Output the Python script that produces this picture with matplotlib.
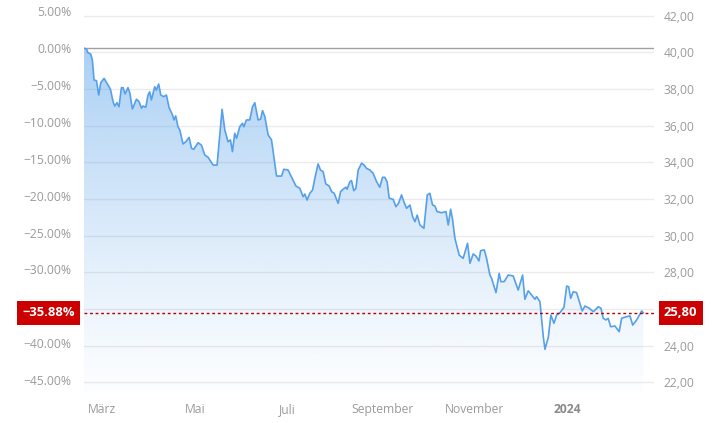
import numpy as np
import matplotlib
matplotlib.use("Agg")
import matplotlib.pyplot as plt
import matplotlib.dates as mdates
import matplotlib.transforms as mtransforms
from matplotlib.patches import Polygon
from datetime import date

plt.rcParams['font.family'] = ['Open Sans', 'DejaVu Sans']

# data (days after start date, closing price)
start_date = date(2023, 2, 17)
day_offsets = [0, 1.6, 2.6, 4.4, 5.5, 6.6, 8.2, 9.7, 11.0, 13.2, 15.8, 17.4, 19.1, 20.2, 21.7, 23.0,
               24.6, 25.7, 27.0, 28.9, 30.1, 31.8, 34.5, 36.2, 37.8, 38.8, 40.6, 42.1, 43.2, 44.3,
               46.5, 47.6, 49.1, 50.5, 52.4, 54.2, 55.9, 58.2, 59.2, 60.3, 61.8, 63.0, 65.1, 66.9,
               69.1, 70.7, 72.2, 75.0, 77.2, 79.4, 81.6, 84.9, 87.5, 90.8, 92.6, 94.7, 96.3, 97.6,
               99.1, 100.3, 102.4, 104.2, 105.1, 106.8, 109.0, 110.8, 112.3, 114.5, 116.1, 117.4,
               118.9, 121.1, 123.3, 126.6, 129.9, 131.4, 134.2, 136.4, 139.3, 141.9, 144.1, 145.2,
               146.7, 148.5, 150.3, 151.8, 153.9, 155.5, 157.2, 159.0, 161.2, 162.8, 164.5, 167.1,
               168.7, 170.4, 172.2, 173.0, 174.8, 175.9, 177.4, 178.8, 180.3, 182.5, 184.2, 185.8,
               188.0, 190.1, 192.4, 194.5, 196.3, 197.8, 199.3, 200.7, 203.3, 205.1, 206.8, 208.8,
               210.3, 212.1, 214.3, 216.1, 217.6, 219.1, 220.9, 223.5, 225.7, 227.4, 229.2, 230.7,
               232.2, 235.1, 238.0, 239.5, 241.1, 242.4, 243.9, 246.7, 249.3, 252.2, 253.8, 255.9,
               257.7, 259.7, 260.8, 263.2, 264.7, 266.9, 268.0, 270.9, 273.0, 274.1, 276.3, 278.9,
               282.2, 285.5, 288.4, 289.9, 292.1, 294.3, 296.5, 297.6, 299.8, 302.0, 303.1, 305.3,
               307.0, 309.0, 310.8, 313.0, 315.6, 317.4, 318.7, 320.0, 321.7, 323.9, 327.6, 329.4,
               332.2, 334.9, 338.2, 339.9, 341.4, 343.2, 344.7, 346.3, 349.1, 351.9, 353.5, 356.8,
               359.0, 360.8, 363.4, 366.7, 367.8]
prices = [40.23, 40.19, 39.99, 39.92, 39.59, 38.50, 38.46, 37.68, 38.35, 38.59, 38.23, 37.99, 37.32,
          37.08, 37.26, 37.04, 38.08, 38.08, 37.74, 38.08, 37.81, 36.92, 37.45, 37.32, 36.96, 37.08,
          37.01, 37.68, 37.86, 37.41, 38.13, 37.95, 38.28, 37.68, 37.59, 37.68, 37.01, 36.59, 36.32,
          36.54, 35.95, 35.77, 35.01, 35.13, 35.37, 34.77, 34.72, 35.08, 34.95, 34.41, 34.28, 33.86,
          33.86, 36.90, 35.77, 35.13, 35.23, 34.59, 35.59, 35.32, 35.95, 36.14, 35.95, 36.32, 36.32,
          37.04, 37.26, 36.32, 36.36, 36.83, 36.50, 35.50, 35.23, 33.26, 33.26, 33.63, 33.59, 33.22,
          32.72, 32.59, 32.13, 32.28, 31.95, 32.32, 32.50, 33.14, 33.92, 33.59, 33.50, 32.83, 32.72,
          32.41, 32.32, 31.77, 32.41, 32.54, 32.65, 32.54, 32.95, 33.01, 32.46, 32.59, 33.59, 33.96,
          33.86, 33.68, 33.59, 33.41, 32.95, 32.65, 33.19, 33.19, 32.95, 32.05, 31.99, 31.59, 31.77,
          32.23, 31.86, 31.50, 31.68, 31.04, 30.77, 31.13, 30.59, 30.41, 32.23, 32.32, 31.68, 31.63,
          31.32, 31.26, 31.32, 30.59, 31.45, 30.86, 29.86, 28.95, 28.77, 29.59, 28.50, 29.01, 28.90,
          28.63, 29.19, 29.23, 28.77, 27.86, 27.68, 26.90, 27.95, 27.50, 27.50, 27.86, 27.81, 27.04,
          27.86, 26.54, 27.00, 26.77, 26.54, 26.68, 26.41, 24.50, 23.81, 24.46, 25.68, 25.23, 25.68,
          25.81, 26.10, 27.26, 27.22, 26.59, 26.95, 26.90, 25.90, 26.17, 26.05, 25.86, 26.13, 26.05,
          25.50, 25.41, 25.50, 25.04, 25.08, 24.77, 25.50, 25.59, 25.63, 25.13, 25.41, 25.90, 25.80]

base_price = 40.24
last_price = 25.80
last_pct = -35.88
price_ticks = [22, 24, 26, 28, 30, 32, 34, 36, 38, 40, 42]
pct_ticks = [5, 0, -5, -10, -15, -20, -25, -30, -35, -40, -45]
month_ticks = [date(2023, 3, 1), date(2023, 5, 1), date(2023, 7, 1),
               date(2023, 9, 1), date(2023, 11, 1), date(2024, 1, 1)]
month_labels = ['März', 'Mai', 'Juli', 'September', 'November', '2024']

line_color = '#55a0ea'
gray = '#9a9a9a'
badge_red = '#cc0000'

x0 = mdates.date2num(start_date)
xs = x0 + np.array(day_offsets)
ys = np.array(prices)
ymin, ymax = 21.48, 42.59
xmax = x0 + 374.8

fig = plt.figure(figsize=(7.16, 4.23), dpi=100)
ax = fig.add_axes([84 / 716, 1 - 392 / 423, 570 / 716, 387 / 423])

# gradient fill under the line
grad = np.linspace(0, 1, 256)
img = np.zeros((256, 1, 4))
img[:, 0, :3] = matplotlib.colors.to_rgb(line_color)
img[:, 0, 3] = 0.02 + 0.48 * grad ** 1.2
im = ax.imshow(img, aspect='auto', origin='lower', extent=[xs[0], xs[-1], ymin, base_price], zorder=1)
verts = np.vstack([[xs[0], ymin], np.column_stack([xs, ys]), [xs[-1], ymin]])
clip = Polygon(verts, closed=True, transform=ax.transData, fc='none', ec='none')
ax.add_patch(clip)
im.set_clip_path(clip)

ax.plot(xs, ys, color=line_color, lw=1.2, zorder=3, solid_joinstyle='round')

# grid, baseline and last value line
for p in price_ticks:
    ax.axhline(p, color='#ebebeb', lw=1, zorder=0)
ax.axhline(base_price, color='#a0a0a0', lw=1, zorder=2)
ax.axhline(last_price, color='#b00000', lw=1, ls=(0, (2, 2)), zorder=4)

ax.set_xlim(x0, xmax)
ax.set_ylim(ymin, ymax)

# right axis: prices
ax.yaxis.tick_right()
ax.set_yticks(price_ticks)
ax.set_yticklabels([f'{p:.2f}'.replace('.', ',') for p in price_ticks])
ax.tick_params(axis='y', length=0, pad=7, labelsize=8.7, labelcolor=gray)

# left axis: performance in percent
sec = ax.secondary_yaxis('left', functions=(lambda p: (p / base_price - 1) * 100,
                                            lambda q: base_price * (1 + q / 100)))
sec.set_yticks(pct_ticks)
sec.set_yticklabels([f'{v:.2f}%'.replace('-', '\u2212') for v in pct_ticks])
sec.tick_params(axis='y', length=0, pad=9, labelsize=8.7, labelcolor=gray)
sec.spines[:].set_visible(False)

# x axis months
ax.set_xticks([mdates.date2num(d) for d in month_ticks])
ax.set_xticklabels(month_labels)
ax.tick_params(axis='x', length=0, pad=8, labelsize=8.7, labelcolor=gray)
xl = ax.get_xticklabels()
xl[-1].set_fontweight('bold')
xl[-1].set_color('#8a8a8a')

for s in ax.spines.values():
    s.set_visible(False)

# value badges on both sides
trans = mtransforms.blended_transform_factory(ax.transAxes, ax.transData)
ax.text(-9 / 570, last_price, f'{last_pct:.2f}%'.replace('-', '\u2212'), transform=trans,
        ha='right', va='center', color='white', fontsize=9.4, fontweight='bold',
        bbox=dict(boxstyle='square,pad=0.42', fc=badge_red, ec='none'), zorder=6, clip_on=False)
ax.text(1 + 10 / 570, last_price, f'{last_price:.2f}'.replace('.', ','), transform=trans,
        ha='left', va='center', color='white', fontsize=9.4, fontweight='bold',
        bbox=dict(boxstyle='square,pad=0.42', fc=badge_red, ec='none'), zorder=6, clip_on=False)

fig.savefig('out.png', dpi=100)
